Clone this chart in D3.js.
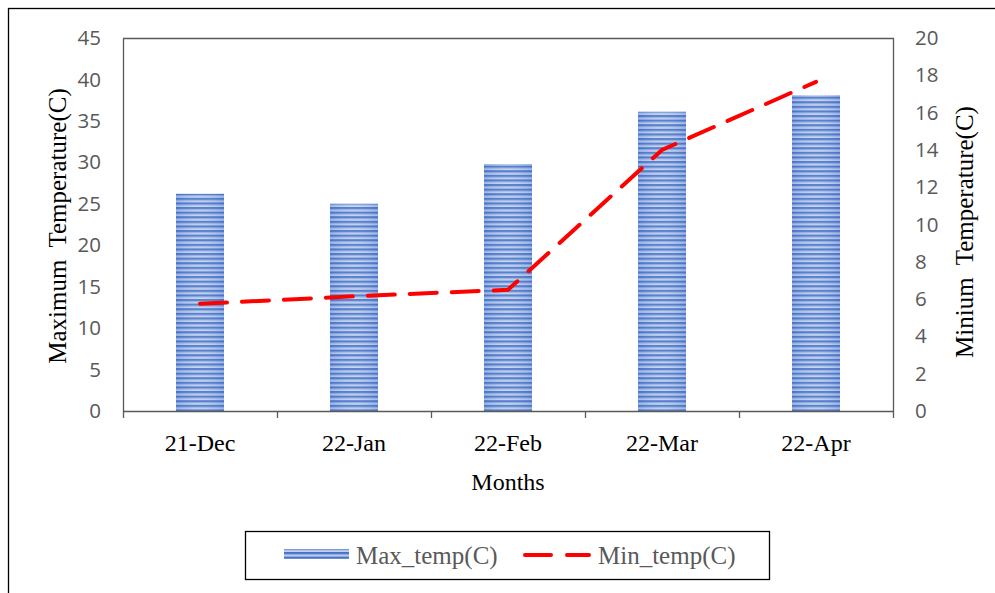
<!DOCTYPE html>
<html><head><meta charset="utf-8">
<script src="https://cdn.jsdelivr.net/npm/d3@7"></script>
<style>body{margin:0;background:#fff}svg{display:block}</style>
</head><body>
<svg id="c" width="995" height="593"></svg>
<script>
const months = ["21-Dec","22-Jan","22-Feb","22-Mar","22-Apr"];
const maxTemp = [26.2, 25.0, 29.8, 36.1, 38.1];
const minTemp = [5.75, 6.15, 6.5, 14.0, 17.65];
const leftTicks = [0,5,10,15,20,25,30,35,40,45];
const rightTicks = [0,2,4,6,8,10,12,14,16,18,20];
const seriesNames = ["Max_temp(C)","Min_temp(C)"];

const svg = d3.select("#c");
const L = 123, R = 893, T = 38, B = 411;
const x = d3.scaleBand().domain(months).range([L, R]);
const yL = d3.scaleLinear().domain([0,45]).range([B, T]);
const yR = d3.scaleLinear().domain([0,20]).range([B, T]);
const serif = "'Liberation Serif', 'Times New Roman', serif";
const sans = "'Open Sans', sans-serif";

const defs = svg.append("defs");
const pat = defs.append("pattern").attr("id","stripe").attr("patternUnits","userSpaceOnUse")
  .attr("width",10).attr("height",4.6);
pat.append("rect").attr("width",10).attr("height",4.6).attr("fill","#c3d2ef");
pat.append("rect").attr("y",0).attr("width",10).attr("height",2.2).attr("fill","#4673c8");
pat.append("rect").attr("y",2.2).attr("width",10).attr("height",0.8).attr("fill","#86a3dc");
const hg = defs.append("linearGradient").attr("id","hg").attr("x1",0).attr("x2",1).attr("y1",0).attr("y2",0);
hg.append("stop").attr("offset","0%").attr("stop-color","#4a74c9").attr("stop-opacity",0.25);
hg.append("stop").attr("offset","50%").attr("stop-color","#ffffff").attr("stop-opacity",0.1);
hg.append("stop").attr("offset","100%").attr("stop-color","#4a74c9").attr("stop-opacity",0.25);

// outer frame
svg.append("rect").attr("x",8.5).attr("y",8.5).attr("width",1000).attr("height",600)
  .attr("fill","none").attr("stroke","#000").attr("stroke-width",1.3);

// plot frame (top & right)
svg.append("path").attr("d",`M${L},${T+0.5}H${R+0.5}V${B}`).attr("fill","none").attr("stroke","#595959").attr("stroke-width",1.3);

// bars
const bw = 48;
[ "url(#stripe)", "url(#hg)" ].forEach(f => {
  svg.append("g").selectAll("rect").data(months).join("rect")
    .attr("x", d => x(d) + x.bandwidth()/2 - bw/2)
    .attr("y", (d,i) => yL(maxTemp[i]))
    .attr("width", bw)
    .attr("height", (d,i) => B - yL(maxTemp[i]))
    .attr("fill", f);
});

// x axis
const xa = svg.append("g").attr("transform",`translate(0,${B})`)
  .call(d3.axisBottom(x).tickSize(0).tickPadding(23));
xa.select(".domain").attr("stroke","#595959").attr("stroke-width",1.3);
xa.selectAll("text").attr("font-family",serif).attr("font-size",24).attr("fill","#000");
const bounds = months.map(d => x(d)).concat([R]);
svg.append("g").selectAll("line").data(bounds).join("line")
  .attr("x1", d => d+0.5).attr("x2", d => d+0.5).attr("y1", B).attr("y2", B+7)
  .attr("stroke","#595959").attr("stroke-width",1.3);

// left axis
const ya = svg.append("g").attr("transform",`translate(${L},0)`)
  .call(d3.axisLeft(yL).tickValues(leftTicks).tickSize(0).tickPadding(22));
ya.select(".domain").attr("stroke","#595959").attr("stroke-width",1.3);
ya.selectAll("text").attr("font-family",sans).attr("font-size",20.5).attr("fill","#595959");

// right axis
const yra = svg.append("g").attr("transform",`translate(${R},0)`)
  .call(d3.axisRight(yR).tickValues(rightTicks).tickSize(0).tickPadding(22));
yra.select(".domain").remove();
yra.selectAll("text").attr("font-family",sans).attr("font-size",20.5).attr("fill","#595959");

// line
const line = d3.line().x((d,i) => x(months[i]) + x.bandwidth()/2).y(d => yR(d));
svg.append("path").datum(minTemp).attr("d", line).attr("fill","none")
  .attr("stroke","#ff0000").attr("stroke-width",4).attr("stroke-dasharray","27,15").attr("stroke-linecap","round");

// titles
svg.append("text").attr("transform","translate(66,226) rotate(-90)").attr("text-anchor","middle")
  .attr("font-family",serif).attr("font-size",25).attr("fill","#000")
  .attr("xml:space","preserve").text("Maximum  Temperature(C)");
svg.append("text").attr("transform","translate(973,232) rotate(-90)").attr("text-anchor","middle")
  .attr("font-family",serif).attr("font-size",25).attr("fill","#000")
  .attr("xml:space","preserve").text("Minium  Temperature(C)");
svg.append("text").attr("x",(L+R)/2).attr("y",490).attr("text-anchor","middle")
  .attr("font-family",serif).attr("font-size",24).attr("fill","#000").text("Months");

// legend
svg.append("rect").attr("x",245.5).attr("y",531.5).attr("width",524).attr("height",48)
  .attr("fill","#fff").attr("stroke","#000").attr("stroke-width",1.3);
svg.append("rect").attr("x",284).attr("y",549).attr("width",65).attr("height",10).attr("fill","url(#stripe)");
svg.append("text").attr("x",356).attr("y",564).attr("font-family",serif)
  .attr("font-size",25).attr("fill","#595959").text(seriesNames[0]);
svg.append("line").attr("x1",525).attr("x2",589).attr("y1",555).attr("y2",555)
  .attr("stroke","#ff0000").attr("stroke-width",4).attr("stroke-dasharray","26,16").attr("stroke-linecap","round");
svg.append("text").attr("x",598).attr("y",564).attr("font-family",serif)
  .attr("font-size",25).attr("fill","#595959").text(seriesNames[1]);
</script>
</body></html>
